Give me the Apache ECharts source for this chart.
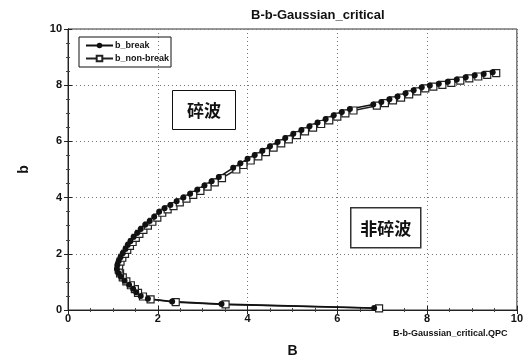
<!DOCTYPE html>
<html><head><meta charset="utf-8">
<script src="https://cdn.jsdelivr.net/npm/echarts@6/dist/echarts.min.js"></script>
<style>html,body{margin:0;padding:0;background:#fff}#c{width:526px;height:363px}</style>
</head><body><div id="c"></div>
<script>
const titleText = 'B-b-Gaussian_critical';
const fileText = 'B-b-Gaussian_critical.QPC';
const xName = 'B';
const yName = 'b';
const seriesNames = ['b_break', 'b_non-break'];
const regionLabels = ['碎波', '非碎波'];
const xTicks = [0, 2, 4, 6, 8, 10];
const yTicks = [0, 2, 4, 6, 8, 10];

const bBreak = [[6.82,0.07],[3.42,0.21],[2.32,0.30],[1.78,0.40],[1.62,0.50],[1.52,0.63],[1.45,0.76],[1.36,0.90],[1.26,1.04],[1.18,1.18],[1.12,1.32],[1.09,1.46],[1.10,1.60],[1.13,1.74],[1.17,1.88],[1.22,2.02],[1.28,2.17],[1.33,2.31],[1.39,2.45],[1.46,2.60],[1.54,2.74],[1.62,2.88],[1.72,3.03],[1.82,3.17],[1.92,3.32],[2.03,3.50],[2.15,3.62],[2.28,3.74],[2.42,3.87],[2.57,4.00],[2.72,4.14],[2.88,4.28],[3.04,4.43],[3.20,4.58],[3.36,4.73],[3.68,5.06],[3.84,5.22],[4.00,5.38],[4.16,5.52],[4.33,5.67],[4.50,5.83],[4.67,5.98],[4.84,6.12],[5.02,6.27],[5.20,6.41],[5.38,6.54],[5.56,6.67],[5.74,6.80],[5.92,6.93],[6.10,7.05],[6.28,7.15],[6.80,7.31],[6.98,7.40],[7.16,7.50],[7.34,7.60],[7.52,7.71],[7.70,7.82],[7.88,7.93],[8.06,7.99],[8.26,8.05],[8.46,8.12],[8.66,8.20],[8.86,8.28],[9.06,8.35],[9.26,8.40],[9.46,8.46]];

const bNonBreak = [[6.93,0.06],[3.51,0.20],[2.40,0.28],[1.84,0.38],[1.67,0.48],[1.56,0.61],[1.49,0.74],[1.40,0.88],[1.30,1.02],[1.22,1.16],[1.16,1.30],[1.13,1.44],[1.14,1.58],[1.17,1.72],[1.21,1.86],[1.27,2.00],[1.32,2.14],[1.38,2.28],[1.44,2.42],[1.51,2.57],[1.59,2.71],[1.68,2.85],[1.78,3.00],[1.88,3.14],[1.99,3.29],[2.10,3.46],[2.22,3.58],[2.35,3.70],[2.49,3.83],[2.64,3.96],[2.79,4.10],[2.95,4.24],[3.11,4.39],[3.27,4.54],[3.43,4.69],[3.75,5.00],[3.91,5.16],[4.07,5.32],[4.24,5.47],[4.41,5.62],[4.58,5.78],[4.75,5.93],[4.92,6.07],[5.10,6.22],[5.28,6.36],[5.46,6.49],[5.64,6.62],[5.82,6.75],[6.00,6.88],[6.18,7.00],[6.36,7.10],[6.88,7.27],[7.06,7.36],[7.24,7.46],[7.42,7.56],[7.60,7.67],[7.78,7.78],[7.96,7.89],[8.14,7.95],[8.34,8.01],[8.54,8.08],[8.74,8.16],[8.94,8.24],[9.14,8.31],[9.34,8.37],[9.54,8.43]];

const FONT = '"Liberation Sans", Arial, sans-serif';
const CJK = '"Noto Sans CJK SC", sans-serif';
const chart = echarts.init(document.getElementById('c'), null, {renderer: 'canvas'});

function axisCommon() {
  return {
    type: 'value', min: 0, max: 10, interval: 2,
    axisLine: {show: true, lineStyle: {color: '#222', width: 1}},
    axisTick: {show: true, inside: true, length: 4, lineStyle: {color: '#222'}},
    minorTick: {show: true, splitNumber: 4, length: 2, lineStyle: {color: '#444'}},
    splitLine: {show: false},
    axisLabel: {show: false}
  };
}

const xMain = Object.assign(axisCommon(), {
  position: 'bottom',
  name: xName, nameLocation: 'middle', nameGap: 34,
  nameTextStyle: {fontFamily: FONT, fontWeight: 'bold', fontSize: 14, color: '#111'},
  axisLabel: {show: true, margin: 3, fontFamily: FONT, fontWeight: 'bold', fontSize: 11, color: '#111',
    formatter: v => xTicks.includes(v) ? String(v) : ''},
  splitLine: {show: true, lineStyle: {type: [1, 3], color: '#777', width: 1}}
});
const xTop = Object.assign(axisCommon(), {position: 'top'});
const yMain = Object.assign(axisCommon(), {
  position: 'left',
  name: yName, nameLocation: 'middle', nameGap: 37,
  nameTextStyle: {fontFamily: FONT, fontWeight: 'bold', fontSize: 14, color: '#111'},
  axisLabel: {show: true, margin: 6, fontFamily: FONT, fontWeight: 'bold', fontSize: 11, color: '#111',
    formatter: v => yTicks.includes(v) ? String(v) : ''},
  splitLine: {show: true, lineStyle: {type: [1, 3], color: '#777', width: 1}}
});
const yRight = Object.assign(axisCommon(), {position: 'right'});

chart.setOption({
  animation: false,
  backgroundColor: '#fff',
  title: {text: titleText, left: 246, top: 4,
    textStyle: {fontFamily: FONT, fontWeight: 'bold', fontSize: 13, color: '#111'}},
  grid: {left: 68, right: 3, top: 29, bottom: 51, containLabel: false,
    show: true, borderColor: '#333', borderWidth: 1, backgroundColor: 'transparent'},
  legend: {
    left: 79, top: 37, orient: 'vertical',
    borderColor: '#111', borderWidth: 1, padding: [4, 2, 4, 6],
    itemWidth: 27, itemHeight: 7, itemGap: 4,
    textStyle: {fontFamily: FONT, fontWeight: 'bold', fontSize: 9, color: '#111', padding: [0, 0, 0, -3]},
    data: seriesNames
  },
  xAxis: [xMain, xTop],
  yAxis: [yMain, yRight],
  graphic: [
    {type: 'text', left: 393, top: 329, style: {text: fileText, font: 'bold 9px ' + FONT, fill: '#111'}},
    {type: 'group', left: 172, top: 90, children: [
      {type: 'rect', shape: {x: 0, y: 0, width: 63, height: 39}, style: {fill: '#fff', stroke: '#111', lineWidth: 1}},
      {type: 'text', style: {x: 31.5, y: 20, text: regionLabels[0], font: 'bold 17px ' + CJK, fill: '#111', align: 'center', verticalAlign: 'middle'}}
    ]},
    {type: 'group', left: 350, top: 207, children: [
      {type: 'rect', shape: {x: 0, y: 0, width: 70, height: 40}, style: {fill: '#fff', stroke: '#333', lineWidth: 1.5}},
      {type: 'text', style: {x: 35, y: 21, text: regionLabels[1], font: 'bold 17px ' + CJK, fill: '#111', align: 'center', verticalAlign: 'middle'}}
    ]}
  ],
  series: [
    {name: seriesNames[1], type: 'line', data: bNonBreak, xAxisIndex: 0, yAxisIndex: 0,
      symbol: 'rect', symbolSize: 7, showAllSymbol: true,
      lineStyle: {color: '#222', width: 1.5},
      itemStyle: {color: '#fff', borderColor: '#222', borderWidth: 1.2}},
    {name: seriesNames[0], type: 'line', data: bBreak, xAxisIndex: 0, yAxisIndex: 0,
      symbol: 'circle', symbolSize: 6, showAllSymbol: true,
      lineStyle: {color: '#111', width: 1.6},
      itemStyle: {color: '#111', borderColor: '#111', borderWidth: 0}}
  ]
});
</script>
</body></html>
